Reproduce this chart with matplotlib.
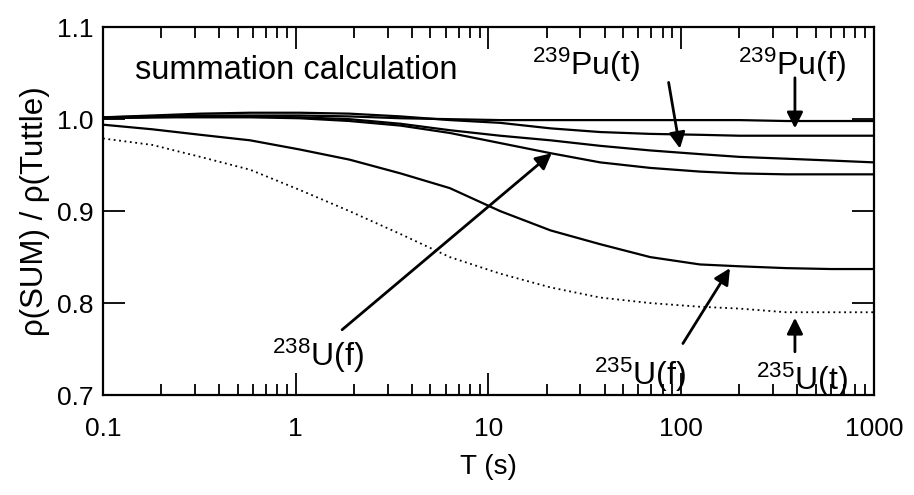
import numpy as np
import matplotlib
matplotlib.use("Agg")
import matplotlib.pyplot as plt
from matplotlib.ticker import FixedLocator, LogLocator, NullFormatter

plt.rcParams['font.family'] = ['Liberation Sans', 'DejaVu Sans']
plt.rcParams['mathtext.fontset'] = 'custom'
plt.rcParams['mathtext.rm'] = 'Liberation Sans'

# cooling time grid (s)
T = [0.1, 0.18, 0.32, 0.58, 1.05, 1.9, 3.5, 6.3, 11.5, 21, 38, 69, 125, 200, 350, 600, 1000]

# ratio rho(SUM)/rho(Tuttle)
pu239_f = [1.002, 1.003, 1.004, 1.004, 1.004, 1.003, 1.001, 1.000, 0.999, 0.999,
           0.999, 0.999, 0.999, 0.999, 0.998, 0.998, 0.998]
other = [1.002, 1.004, 1.006, 1.007, 1.007, 1.006, 1.003, 0.999, 0.996, 0.990,
         0.986, 0.984, 0.983, 0.982, 0.982, 0.982, 0.982]
pu239_t = [1.001, 1.002, 1.003, 1.003, 1.002, 1.000, 0.995, 0.988, 0.982, 0.977,
           0.971, 0.966, 0.962, 0.959, 0.957, 0.955, 0.953]
u238_f = [1.001, 1.002, 1.002, 1.002, 1.001, 0.998, 0.993, 0.985, 0.974, 0.963,
          0.953, 0.947, 0.943, 0.941, 0.940, 0.940, 0.940]
u235_f = [0.994, 0.989, 0.983, 0.977, 0.967, 0.956, 0.941, 0.925, 0.900, 0.879,
          0.864, 0.850, 0.842, 0.840, 0.838, 0.837, 0.837]
u235_t = [0.979, 0.972, 0.959, 0.945, 0.923, 0.900, 0.875, 0.850, 0.832, 0.817,
          0.806, 0.800, 0.796, 0.794, 0.790, 0.790, 0.790]

yticks = [0.7, 0.8, 0.9, 1.0, 1.1]
xticks = [0.1, 1, 10, 100, 1000]
xticklabels = ['0.1', '1', '10', '100', '1000']

fig = plt.figure(figsize=(9.14, 4.95), dpi=100)
ax = fig.add_axes([0.1127, 0.202, 0.8435, 0.743])

for ys in [pu239_f, other, pu239_t, u238_f, u235_f]:
    ax.plot(T, ys, color='black', lw=1.6)
ax.plot(T, u235_t, color='black', lw=1.3, linestyle=(0, (1, 2)))

ax.set_xscale('log')
ax.set_xlim(0.1, 1000)
ax.set_ylim(0.7, 1.1)
ax.xaxis.set_major_locator(FixedLocator(xticks))
ax.set_xticklabels(xticklabels)
ax.xaxis.set_minor_locator(LogLocator(base=10, subs=np.arange(2, 10)))
ax.xaxis.set_minor_formatter(NullFormatter())
ax.set_yticks(yticks)
ax.set_yticklabels(['%.1f' % v for v in yticks])

ax.tick_params(which='both', direction='in', top=True, right=True, labelsize=19, width=1.3)
ax.tick_params(which='major', length=16)
ax.tick_params(axis='x', which='major', pad=16)
ax.tick_params(axis='y', which='major', pad=7)
ax.tick_params(which='minor', length=8)
for s in ax.spines.values():
    s.set_linewidth(1.6)

ax.set_xlabel('T (s)', fontsize=20, labelpad=9)
ax.set_ylabel('ρ(SUM) / ρ(Tuttle)', fontsize=22.5, labelpad=5)

ax.text(0.1466, 1.053, 'summation calculation', fontsize=23.5, va='center', ha='left')

arrow = dict(arrowstyle='-|>', color='black', lw=2, mutation_scale=24, shrinkA=0, shrinkB=0)
fs = 23
ax.text(32, 1.048, r'$\mathregular{^{239}Pu(t)}$', fontsize=fs, ha='center', va='baseline')
ax.annotate('', xy=(98.5, 0.968), xytext=(86, 1.040), arrowprops=arrow)
ax.text(375, 1.048, r'$\mathregular{^{239}Pu(f)}$', fontsize=fs, ha='center', va='baseline')
ax.annotate('', xy=(389, 0.990), xytext=(389, 1.045), arrowprops=arrow)
ax.annotate('', xy=(21.3, 0.963), xytext=(1.74, 0.771), arrowprops=arrow)
ax.text(1.30, 0.743, r'$\mathregular{^{238}U(f)}$', fontsize=fs, ha='center', va='center')
ax.annotate('', xy=(179, 0.838), xytext=(102, 0.756), arrowprops=arrow)
ax.text(61, 0.722, r'$\mathregular{^{235}U(f)}$', fontsize=fs, ha='center', va='center')
ax.annotate('', xy=(389, 0.784), xytext=(389, 0.747), arrowprops=arrow)
ax.text(423, 0.716, r'$\mathregular{^{235}U(t)}$', fontsize=fs, ha='center', va='center')

fig.savefig('out.png', dpi=100)
